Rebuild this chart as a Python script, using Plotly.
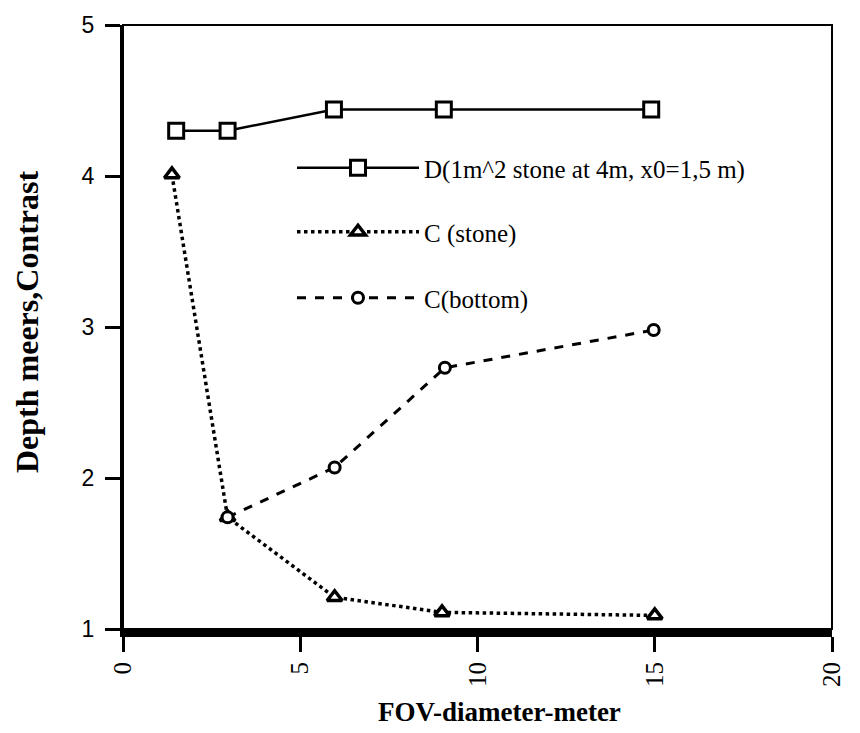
import plotly.graph_objects as go

# Data
fov_D = [1.5, 2.95, 5.95, 9.05, 14.9]
depth_D = [4.3, 4.3, 4.44, 4.44, 4.44]

fov_stone = [1.38, 2.95, 5.97, 9.0, 15.0]
contrast_stone = [4.01, 1.74, 1.21, 1.11, 1.09]

fov_bottom = [2.95, 5.97, 9.08, 14.97]
contrast_bottom = [1.74, 2.07, 2.73, 2.98]

x_ticks = [0, 5, 10, 15, 20]
y_ticks = [1, 2, 3, 4, 5]

names = ["D(1m^2 stone at 4m, x0=1,5 m)", "C (stone)", "C(bottom)"]

serif = "Liberation Serif, Times New Roman, serif"
sans = "Liberation Sans, Arial, sans-serif"

fig = go.Figure()
fig.add_trace(go.Scatter(
    x=fov_D, y=depth_D, mode="lines+markers", name=names[0],
    line=dict(color="black", width=2.5, dash="solid"),
    marker=dict(symbol="square", size=15, color="white", line=dict(color="black", width=3)),
    legend="legend",
))
fig.add_trace(go.Scatter(
    x=fov_stone, y=contrast_stone, mode="lines+markers", name=names[1],
    line=dict(color="black", width=3.5, dash="dot"),
    marker=dict(symbol="triangle-up", size=13, color="white", line=dict(color="black", width=3.5)),
    legend="legend2",
))
fig.add_trace(go.Scatter(
    x=fov_bottom, y=contrast_bottom, mode="lines+markers", name=names[2],
    line=dict(color="black", width=3, dash="dash"),
    marker=dict(symbol="circle", size=11, color="white", line=dict(color="black", width=3)),
    legend="legend3",
))

# page geometry of the plot area (the page body adds an 8px offset)
PL, PT, PR, PB = 123, 25, 832, 629
W, H = 860, 733
OFF = 8
pw = PR - PL
ph = PB - PT

def px_x(px):
    return (px - PL) / pw

def px_y(py):
    return (PB - py) / ph

leg_common = dict(xanchor="left", yanchor="middle", bgcolor="rgba(0,0,0,0)",
                  font=dict(family=serif, size=25, color="black"), itemwidth=122)
lx = px_x(292)
fig.update_layout(
    legend=dict(x=lx, y=px_y(168), **leg_common),
    legend2=dict(x=lx, y=px_y(232), **leg_common),
    legend3=dict(x=lx, y=px_y(298), **leg_common),
)

fig.update_layout(
    width=W, height=H,
    margin=dict(l=PL - OFF, r=W + OFF - PR, t=PT - OFF, b=H + OFF - PB, autoexpand=False),
    plot_bgcolor="white", paper_bgcolor="white",
    showlegend=True,
    xaxis=dict(range=[0, 20], tickvals=x_ticks, ticktext=[str(v) for v in x_ticks],
               tickangle=-90, showgrid=False, zeroline=False,
               showline=True, linecolor="black", linewidth=8,
               ticks="outside", ticklen=15, tickwidth=3, tickcolor="black",
               tickfont=dict(family=serif, size=25, color="black")),
    yaxis=dict(range=[1, 5], tickvals=y_ticks, ticktext=[str(v) for v in y_ticks],
               showgrid=False, zeroline=False,
               showline=True, linecolor="black", linewidth=3,
               ticks="outside", ticklen=15, tickwidth=3, tickcolor="black",
               ticklabelstandoff=6,
               tickfont=dict(family=sans, size=23, color="black")),
    shapes=[dict(type="rect", xref="paper", yref="paper", x0=0, x1=1, y0=0, y1=1,
                 line=dict(color="black", width=2), layer="above")],
    annotations=[
        dict(text="<b>FOV-diameter-meter</b>", xref="paper", yref="paper",
             x=px_x(500), y=px_y(712), showarrow=False, xanchor="center", yanchor="middle",
             font=dict(family=serif, size=27, color="black")),
        dict(text="<b>Depth meers,Contrast</b>", xref="paper", yref="paper",
             x=px_x(27), y=px_y(322), showarrow=False, xanchor="center", yanchor="middle",
             textangle=-90, font=dict(family=serif, size=32, color="black")),
    ],
)

fig.write_html("out.html")
